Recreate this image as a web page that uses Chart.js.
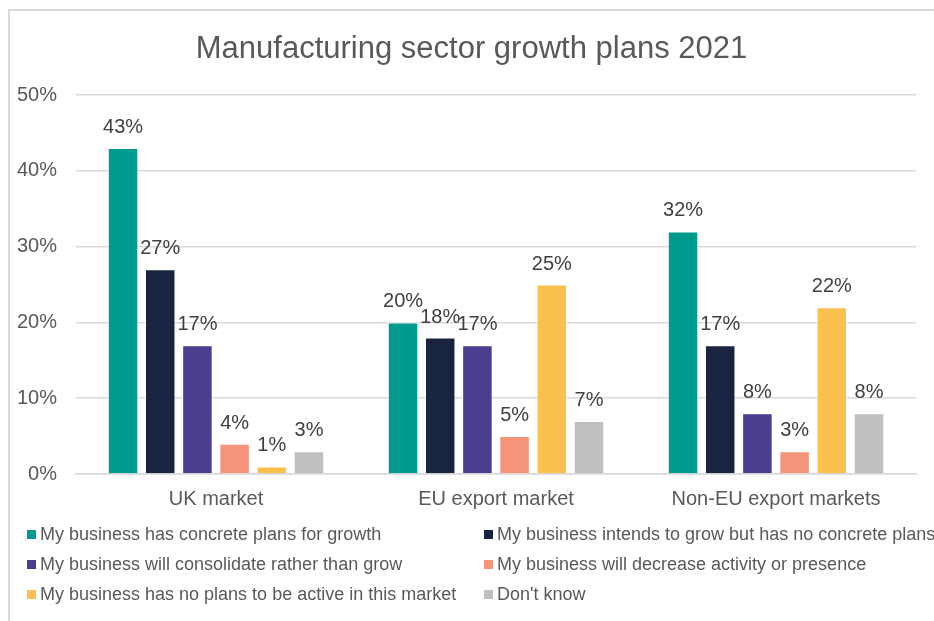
<!DOCTYPE html>
<html>
<head>
<meta charset="utf-8">
<script src="https://cdn.jsdelivr.net/npm/chart.js@4/dist/chart.umd.min.js"></script>
<style>
    html, body {
        margin: 0;
        padding: 0;
        background: #fff;
        width: 934px;
        height: 621px;
        overflow: hidden;
        font-family: "Liberation Sans", Arial, sans-serif;
    }
    #frame {
        position: absolute;
        left: 8px;
        top: 9px;
        width: 1000px;
        height: 1000px;
        border: 2px solid #d9d9d9;
    }
    #wrap {
        position: absolute;
        left: 0;
        top: 0;
        width: 934px;
        height: 621px;
    }
    #legend {
        position: absolute;
        left: 0;
        top: 0;
        width: 934px;
        height: 621px;
        pointer-events: none;
    }
    .item {
        position: absolute;
        height: 30px;
        line-height: 30px;
        font-size: 18px;
        color: #595959;
        white-space: nowrap;
    }
    .item span.box {
        position: absolute;
        left: 0;
        top: 11px;
        width: 9px;
        height: 9px;
    }
    .item span.txt {
        position: absolute;
        left: 13px;
        top: 0;
    }
</style>
</head>
<body>
<div id="frame"></div>
<div id="wrap"><canvas id="growthChart" width="934" height="621"></canvas></div>
<div id="legend"></div>

<script>
const chartTitle = "Manufacturing sector growth plans 2021"

const markets = ["UK market", "EU export market", "Non-EU export markets"]

const seriesNames = [
    "My business has concrete plans for growth",
    "My business intends to grow but has no concrete plans",
    "My business will consolidate rather than grow",
    "My business will decrease activity or presence",
    "My business has no plans to be active in this market",
    "Don't know"
]

// values in %, one array per answer, in market order
const concretePlans = [43, 20, 32]
const intendsToGrow = [27, 18, 17]
const consolidate = [17, 17, 8]
const decrease = [4, 5, 3]
const noPlansActive = [1, 25, 22]
const dontKnow = [3, 7, 8]

const yTicks = [0, 10, 20, 30, 40, 50]

const colors = ["#009b8f", "#182440", "#483d8f", "#f4957a", "#fbc04e", "#bfbfbf"]

const TEXT = "#595959"
const FONT = "'Liberation Sans', Arial, sans-serif"

// writes the value above every bar
const barLabels = {
    id: "barLabels",
    afterDatasetsDraw(chart) {
        const ctx = chart.ctx
        ctx.save()
        ctx.font = "20px " + FONT
        ctx.fillStyle = "#404040"
        ctx.textAlign = "center"
        ctx.textBaseline = "alphabetic"
        chart.data.datasets.forEach((ds, i) => {
            const meta = chart.getDatasetMeta(i)
            meta.data.forEach((bar, j) => {
                ctx.fillText(ds.data[j] + "%", bar.x, bar.y - 15)
            })
        })
        ctx.restore()
    }
}

// title centred on the frame rather than on the plot
const frameTitle = {
    id: "frameTitle",
    afterDraw(chart) {
        const ctx = chart.ctx
        ctx.save()
        ctx.font = "31px " + FONT
        ctx.fillStyle = TEXT
        ctx.textAlign = "center"
        ctx.textBaseline = "alphabetic"
        ctx.fillText(chartTitle, 471.5, 58)
        ctx.restore()
    }
}

function buildLegend(chart) {
    const box = document.getElementById("legend")
    const cols = [27, 484]
    const rows = [519, 549, 579]
    chart.data.datasets.forEach((ds, i) => {
        const el = document.createElement("div")
        el.className = "item"
        el.style.left = cols[i % 2] + "px"
        el.style.top = rows[Math.floor(i / 2)] + "px"
        el.innerHTML = `<span class="box" style="background:${ds.backgroundColor}"></span><span class="txt">${ds.label}</span>`
        box.appendChild(el)
    })
}

const seriesData = [concretePlans, intendsToGrow, consolidate, decrease, noPlansActive, dontKnow]

const chart = new Chart(document.getElementById("growthChart").getContext("2d"), {
    type: "bar",
    data: {
        labels: markets,
        datasets: seriesData.map((values, i) => ({
            label: seriesNames[i],
            data: values,
            backgroundColor: colors[i],
            borderColor: "#ffffff",
            borderWidth: 1,
            barPercentage: 0.82,
            categoryPercentage: 0.797
        }))
    },
    options: {
        responsive: false,
        animation: false,
        devicePixelRatio: 1,
        layout: {
            padding: { left: -2, right: 18, top: 95, bottom: 97 }
        },
        plugins: {
            legend: { display: false },
            tooltip: { enabled: false },
            title: { display: false }
        },
        scales: {
            x: {
                grid: { display: false, drawTicks: false },
                border: { color: "#d9d9d9", width: 1.5 },
                ticks: {
                    color: TEXT,
                    padding: 13,
                    font: { family: FONT, size: 20 }
                }
            },
            y: {
                min: 0,
                max: 50,
                afterBuildTicks(axis) {
                    axis.ticks = yTicks.map(v => ({ value: v }))
                },
                grid: { color: "#d9d9d9", lineWidth: 1.5, drawTicks: false },
                border: { display: false },
                ticks: {
                    color: TEXT,
                    padding: 19,
                    font: { family: FONT, size: 20 },
                    callback: v => v + "%"
                }
            }
        }
    },
    plugins: [barLabels, frameTitle]
})

buildLegend(chart)
</script>
</body>
</html>
